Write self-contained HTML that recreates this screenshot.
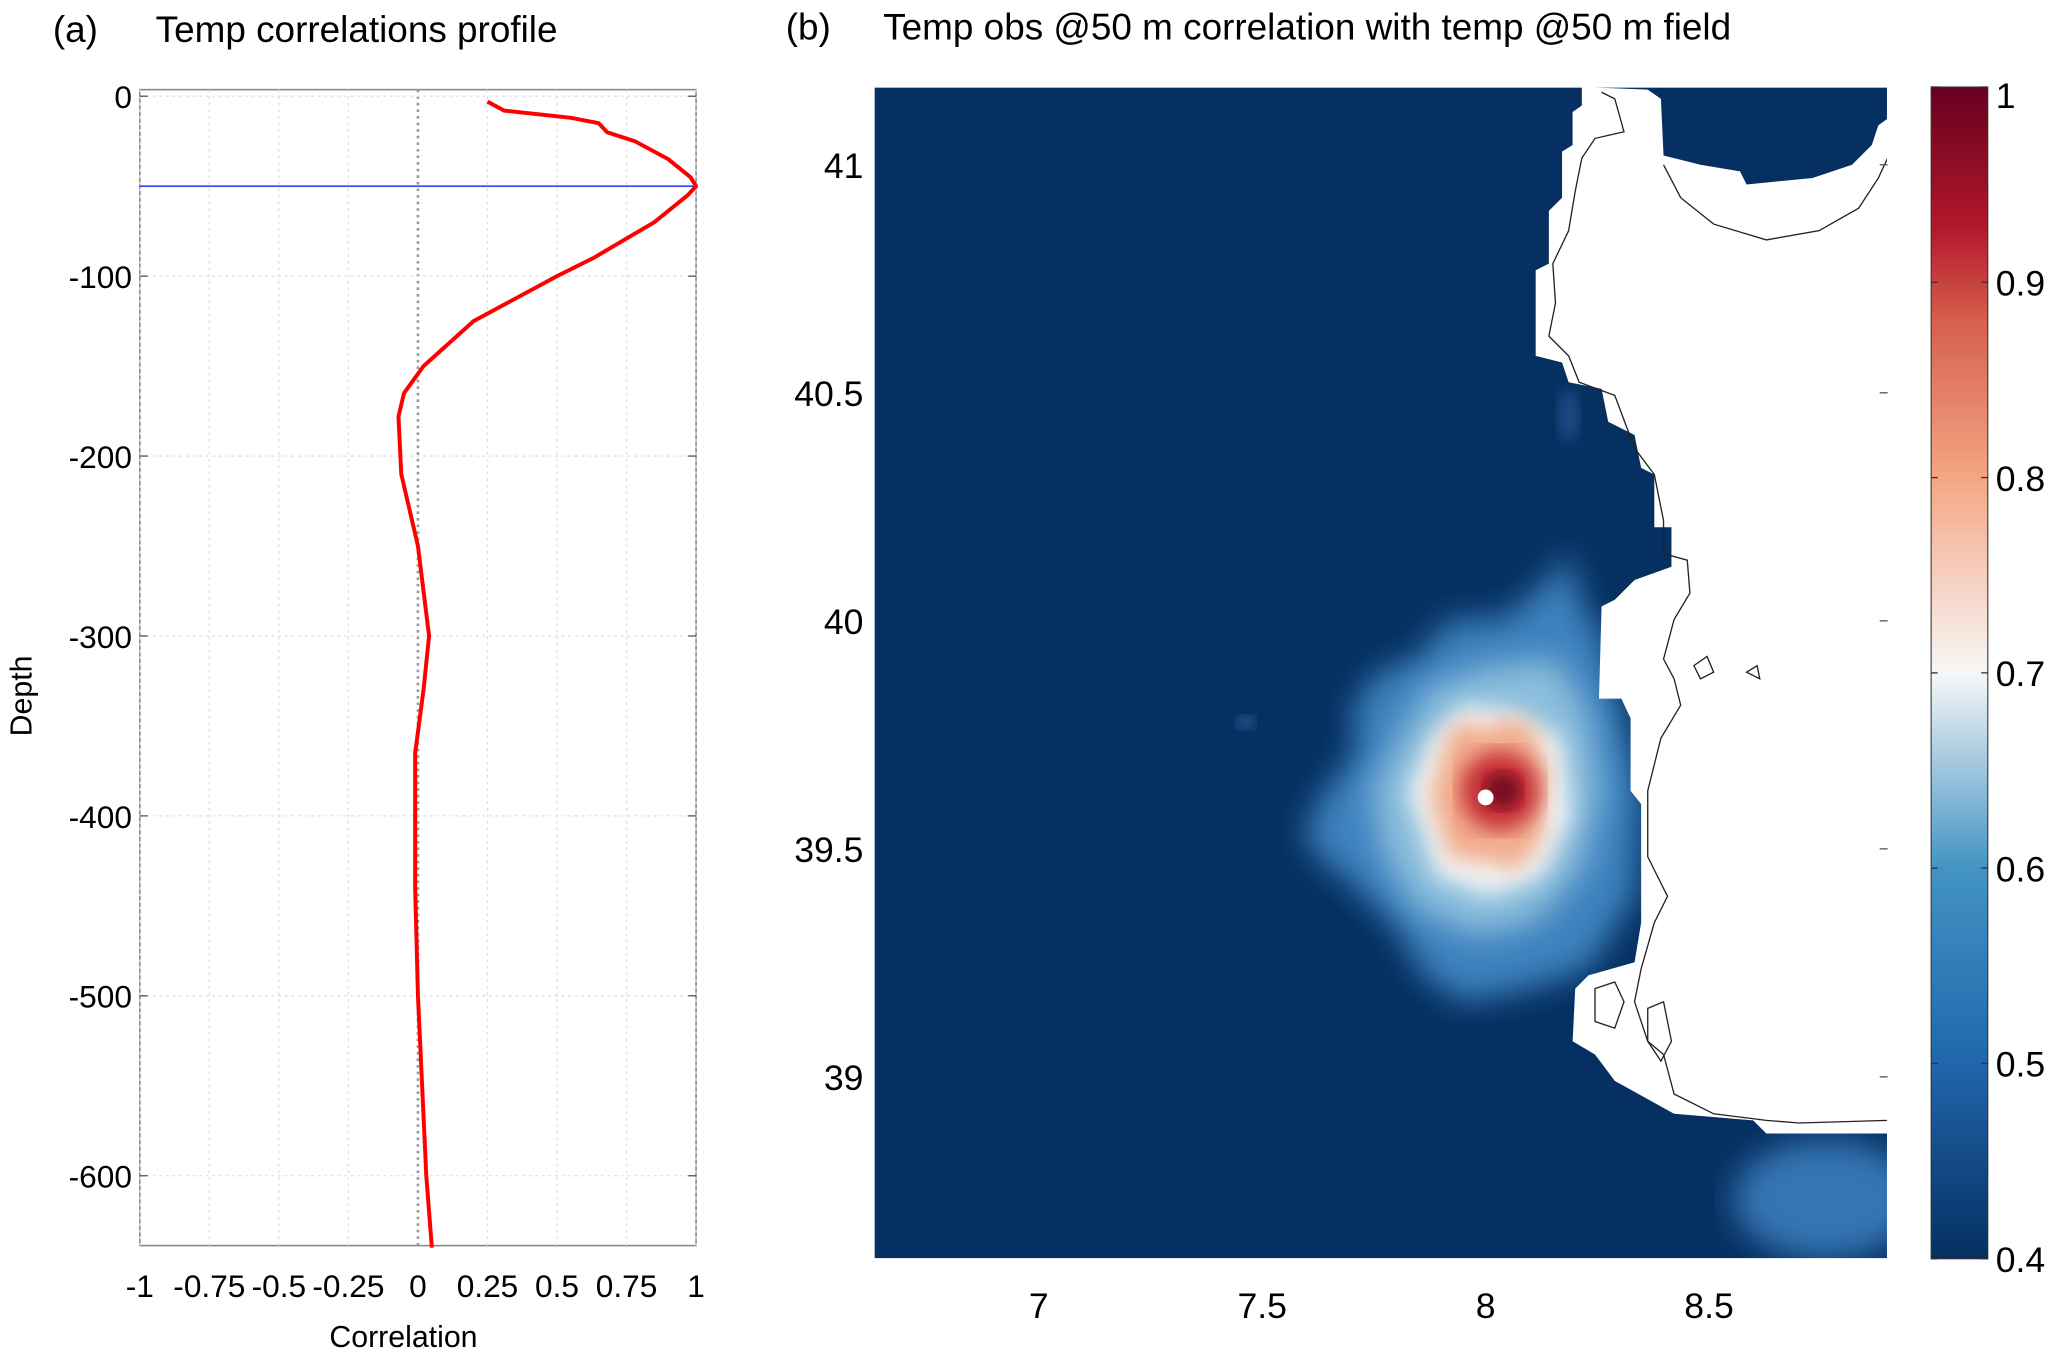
<!DOCTYPE html>
<html><head><meta charset="utf-8"><style>
html,body{margin:0;padding:0;background:#fff;}
svg{display:block;font-family:"Liberation Sans",sans-serif;}
</style></head><body>
<svg id="fig" width="2067" height="1355" viewBox="0 0 1568 1028" xmlns="http://www.w3.org/2000/svg">
<defs>
<linearGradient id="cbar" x1="0" y1="1" x2="0" y2="0">
<stop offset="0" stop-color="#053061"/><stop offset="0.167" stop-color="#2166ac"/>
<stop offset="0.333" stop-color="#4393c3"/><stop offset="0.5" stop-color="#f7f7f7"/>
<stop offset="0.667" stop-color="#f4a582"/><stop offset="0.8" stop-color="#d6604d"/>
<stop offset="0.88" stop-color="#b2182b"/><stop offset="1" stop-color="#67001f"/>
</linearGradient>
<filter id="blur8"><feGaussianBlur stdDeviation="8"/></filter>
<filter id="blur14"><feGaussianBlur stdDeviation="12"/></filter>
<filter id="blur5"><feGaussianBlur stdDeviation="5"/></filter>
<clipPath id="mapclip"><rect x="663" y="66" width="769" height="889"/></clipPath>
</defs>

<g id="panelA">
<text x="40" y="32" font-size="28">(a)</text>
<text x="118" y="32" font-size="28">Temp correlations profile</text>
<rect x="106" y="68" width="422" height="877" fill="#fff" stroke="#888" stroke-width="1.2"/>
<g id="gridA"></g>
<g id="ticksA"></g>
<text x="306" y="1022" font-size="23" text-anchor="middle">Correlation</text>
<text transform="translate(24,528) rotate(-90)" font-size="23" text-anchor="middle">Depth</text>
<g id="profileLines"></g>
</g>

<g id="panelB">
<text x="596" y="30" font-size="28">(b)</text>
<text x="670" y="30" font-size="28">Temp obs @50 m correlation with temp @50 m field</text>
<g clip-path="url(#mapclip)">
<rect x="663" y="66" width="769" height="889" fill="#053061"/>
<g>
<path d="M990,630 L1005,600 L1030,570 L1025,540 L1045,510 L1075,500 L1100,470 L1140,470 L1170,445 L1190,420 L1200,460 L1215,480 L1230,540 L1245,600 L1240,680 L1205,735 L1160,750 L1110,760 L1080,740 L1060,705 L1025,670 L995,645 Z" fill="#3c82bf" filter="url(#blur14)"/>
<path d="M1040,600 L1060,560 L1085,520 L1130,505 L1180,500 L1205,540 L1215,600 L1200,660 L1165,700 L1120,710 L1075,690 L1050,650 Z" fill="#8dbfdd" filter="url(#blur14)"/>
<path d="M1068,600 L1085,560 L1110,535 L1150,540 L1185,560 L1192,620 L1170,665 L1130,680 L1090,665 Z" fill="#f3f3f3" filter="url(#blur8)"/>
<path d="M1085,605 L1098,560 L1110,545 L1125,555 L1140,545 L1162,550 L1175,590 L1168,640 L1150,660 L1135,655 L1100,650 Z" fill="#f2ab8a" filter="url(#blur8)"/>
<circle cx="1138" cy="600" r="30" fill="#c42b35" filter="url(#blur8)"/>
<circle cx="1140" cy="600" r="14" fill="#7a0a24" filter="url(#blur5)"/>
<ellipse cx="1385" cy="910" rx="70" ry="45" fill="#3474b4" filter="url(#blur14)"/>
<ellipse cx="945" cy="548" rx="7" ry="5" fill="#2a5e9a" filter="url(#blur5)"/>
<ellipse cx="1190" cy="315" rx="8" ry="20" fill="#1c4a85" filter="url(#blur5)"/>
</g>
<polygon fill="#fff" points="1200,66 1200,80 1193,85 1193,110 1185,115 1185,150 1175,160 1175,200 1165,205 1165,270 1185,275 1190,290 1215,295 1220,320 1240,330 1245,355 1255,360 1255,400 1268,400 1268,430 1240,440 1225,455 1215,460 1213,530 1230,530 1237,545 1237,600 1245,610 1245,700 1240,730 1205,740 1195,750 1193,790 1210,800 1225,820 1270,845 1330,850 1340,860 1432,860 1432,90 1425,95 1420,110 1405,125 1375,135 1325,140 1320,130 1290,125 1262,118 1260,75 1250,68"/>
<polyline fill="none" stroke="#222" stroke-width="1" points="1215,70 1225,75 1232,100 1210,105 1200,120 1195,145 1190,175 1178,200 1180,230 1175,255 1190,270 1198,290 1225,300 1240,340 1255,360 1262,395 1262,420 1280,425 1282,450 1270,470 1262,500 1270,515 1275,535 1260,560 1250,600 1250,650 1265,680 1255,700 1245,735 1240,760 1250,790 1262,800 1270,830 1300,845 1340,850 1365,852 1432,850"/>
<polyline fill="none" stroke="#222" stroke-width="1" points="1262,125 1275,150 1300,170 1340,182 1380,175 1410,158 1425,135 1432,120"/>
<path fill="none" stroke="#222" stroke-width="1" d="M1210,750 L1225,745 L1232,760 L1225,780 L1210,775 Z M1250,765 L1262,760 L1268,790 L1260,805 L1250,790 Z M1285,505 L1295,498 L1300,510 L1290,515 Z M1325,510 L1333,505 L1335,515 Z"/>
<circle cx="1127" cy="605" r="6" fill="#fff"/>
</g>
<rect x="663" y="66" width="769" height="889" fill="none" stroke="#fff" stroke-width="1"/>
<g id="ticksB"></g>
<rect x="1465" y="66" width="43" height="889" fill="url(#cbar)" stroke="#333" stroke-width="0.8"/>
<g id="ticksCB"></g>
</g>
</svg>
<script>
const corrTicks=[-1,-0.75,-0.5,-0.25,0,0.25,0.5,0.75,1];
const corrTickLabels=["-1","-0.75","-0.5","-0.25","0","0.25","0.5","0.75","1"];
const depthTicks=[0,-100,-200,-300,-400,-500,-600];
const profileDepth=[-3,-8,-12,-15,-20,-25,-35,-45,-50,-55,-70,-90,-100,-125,-150,-165,-178,-210,-250,-300,-330,-365,-400,-440,-500,-600,-640];
const profileCorr=[0.25,0.31,0.55,0.65,0.68,0.78,0.9,0.98,1.0,0.97,0.85,0.63,0.5,0.2,0.02,-0.05,-0.07,-0.06,0.0,0.04,0.02,-0.01,-0.01,-0.01,0.0,0.03,0.05];
const obsDepth=-50;
const lonTicks=[7,7.5,8,8.5];
const latTicks=[39,39.5,40,40.5,41];
const cbTicks=[0.4,0.5,0.6,0.7,0.8,0.9,1];
const cbTickLabels=["0.4","0.5","0.6","0.7","0.8","0.9","1"];

const NS="http://www.w3.org/2000/svg";
function mk(tag,attrs,parent,txt){const e=document.createElementNS(NS,tag);for(const k in attrs)e.setAttribute(k,attrs[k]);if(txt!==undefined)e.textContent=txt;parent.appendChild(e);return e;}
const xA=c=>106+(c+1)/2*422;
const yA=d=>73-d*(819/600);
const lonX=l=>788+(l-7)*339;
const latY=l=>125+(41-l)*346;
const cbY=v=>955-(v-0.4)/0.6*889;

const gA=document.getElementById('gridA'), tA=document.getElementById('ticksA');
corrTicks.forEach((c,i)=>{
  const g=mk('line',{x1:xA(c),x2:xA(c),y1:68,y2:945,stroke:c===0?'#999':'#ddd','stroke-dasharray':'2,3','stroke-width':c===0?2:1},gA);
  
  
  const t=mk('text',{x:xA(c),y:984,'font-size':24,'text-anchor':'middle'},tA,corrTickLabels[i]);
  
  
});
depthTicks.forEach(d=>{
  const g=mk('line',{x1:106,x2:528,y1:yA(d),y2:yA(d),stroke:'#ddd','stroke-dasharray':'2,3'},gA);
  
  
  mk('line',{x1:106,x2:112,y1:yA(d),y2:yA(d),stroke:'#555'},gA);
  mk('line',{x1:522,x2:528,y1:yA(d),y2:yA(d),stroke:'#555'},gA);
  const t=mk('text',{x:100,y:yA(d)+9,'font-size':24,'text-anchor':'end'},tA,String(d));
  
  
});
const pl=document.getElementById('profileLines');
const bl=mk('line',{x1:106,x2:528,y1:yA(obsDepth),y2:yA(obsDepth),stroke:'#3344ee','stroke-width':1.2},pl);


const pts=profileDepth.map((d,i)=>xA(profileCorr[i])+','+yA(d)).join(' ');
const rl=mk('polyline',{points:pts,fill:'none',stroke:'#ff0000','stroke-width':3,'stroke-linejoin':'round'},pl);



const tB=document.getElementById('ticksB');
lonTicks.forEach(l=>{
  const t=mk('text',{x:lonX(l),y:1000,'font-size':27,'text-anchor':'middle'},tB,String(l));
  
  
});
latTicks.forEach(l=>{
  const t=mk('text',{x:655,y:latY(l)+10,'font-size':27,'text-anchor':'end'},tB,String(l));
  
  
  mk('line',{x1:1426,x2:1432,y1:latY(l),y2:latY(l),stroke:'#555'},tB);
});
const tC=document.getElementById('ticksCB');
cbTicks.forEach((v,i)=>{
  mk('line',{x1:1465,x2:1470,y1:cbY(v),y2:cbY(v),stroke:'#333'},tC);
  mk('line',{x1:1503,x2:1508,y1:cbY(v),y2:cbY(v),stroke:'#333'},tC);
  const t=mk('text',{x:1514,y:Math.min(Math.max(cbY(v)+10,82),968),'font-size':27},tC,cbTickLabels[i]);
  
  
});
</script>
</body></html>
